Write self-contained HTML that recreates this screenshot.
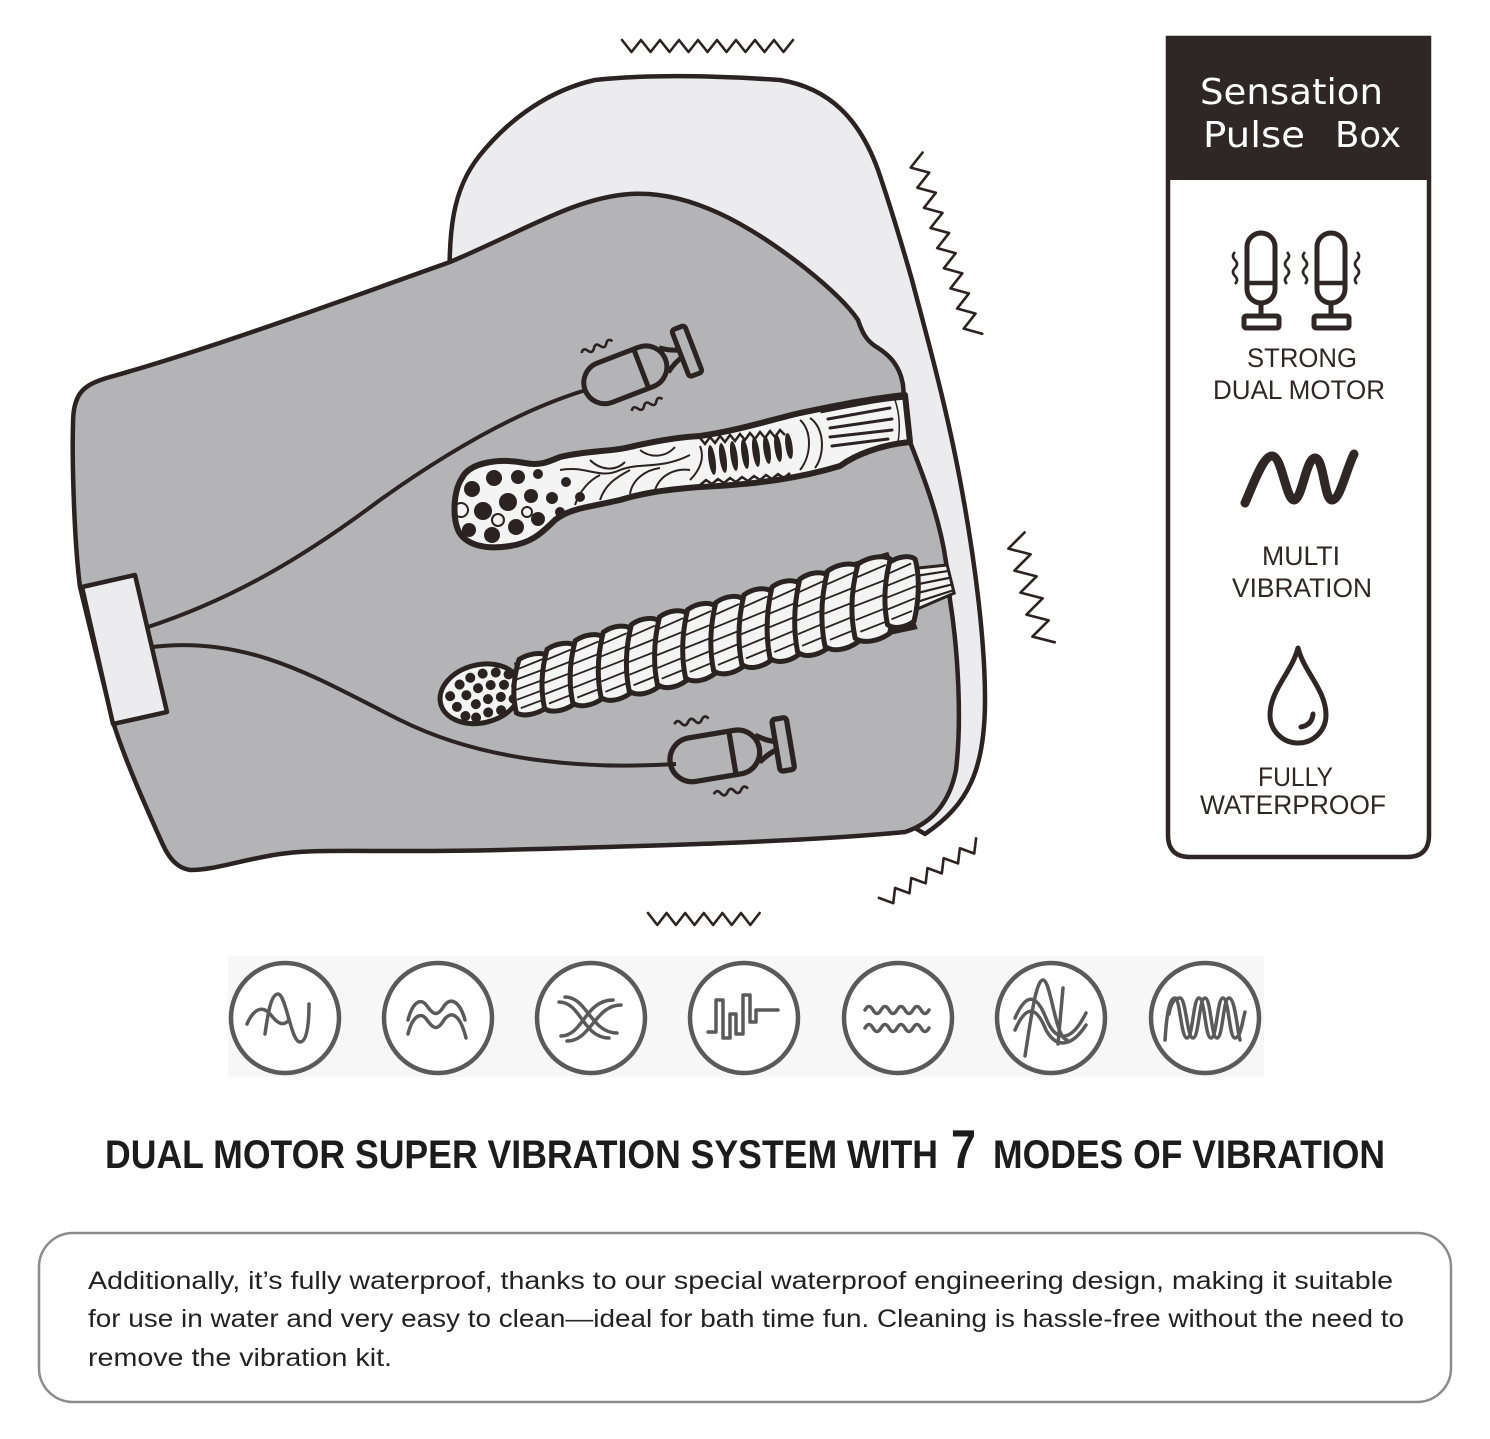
<!DOCTYPE html>
<html><head><meta charset="utf-8"><style>
html,body{margin:0;padding:0;background:#fff;}
svg{display:block;}
</style></head><body>
<svg width="1490" height="1439" viewBox="0 0 1490 1439" xmlns="http://www.w3.org/2000/svg">
<defs>
<g id="rib">
<path d="M-13,-30 C-2,-34 12,-32 18,-27 C23,-10 21,12 14,30 C3,34 -11,33 -18,27 C-22,8 -20,-12 -13,-30 Z" fill="#f4f4f4" stroke="#2a2321" stroke-width="5" vector-effect="non-scaling-stroke"/>
<path d="M-14,-20 L13,-24 M-17,-9 L17,-13 M-18,2 L18,-2 M-17,13 L16,9 M-13,23 L12,20" fill="none" stroke="#2a2321" stroke-width="1.8" vector-effect="non-scaling-stroke"/>
</g>
<g id="motor">
<rect x="-48" y="-21" width="86" height="42" rx="21" fill="none" stroke="#2a2321" stroke-width="5"/>
<line x1="12" y1="-20" x2="12" y2="20" stroke="#2a2321" stroke-width="5"/>
<path d="M36,-13 Q46,-6 54,-4 L54,4 Q46,6 36,13" fill="none" stroke="#2a2321" stroke-width="5" stroke-linejoin="round"/>
<rect x="54" y="-25" width="14" height="50" rx="3" fill="#b4b4b6" stroke="#2a2321" stroke-width="5"/>
<path d="M-38,-36 q3.3,-5 6.6,0 t6.6,0 t6.6,0 t6.6,0 t6.6,0" fill="none" stroke="#2a2321" stroke-width="2.6"/>
<path d="M-12,36 q3.3,-5 6.6,0 t6.6,0 t6.6,0 t6.6,0 t6.6,0" fill="none" stroke="#2a2321" stroke-width="2.6"/>
</g>
<g id="pmotor">
<path d="M-14,283 L-14,247 A14,14 0 0 1 14,247 L14,289 A14,14 0 0 1 -14,289 Z" fill="none" stroke="#2e2725" stroke-width="5"/>
<line x1="-14" y1="283" x2="14" y2="283" stroke="#2e2725" stroke-width="4.5"/>
<line x1="0" y1="303" x2="0" y2="316" stroke="#2e2725" stroke-width="5"/>
<rect x="-17" y="316" width="35" height="12" rx="2" fill="none" stroke="#2e2725" stroke-width="5"/>
<path d="M-26,252 q-4,4 0,8 t0,8 t0,8 t0,8" fill="none" stroke="#2e2725" stroke-width="2.6"/>
<path d="M26,252 q4,4 0,8 t0,8 t0,8 t0,8" fill="none" stroke="#2e2725" stroke-width="2.6"/>
</g>
</defs>

<!-- zigzags -->
<g fill="none" stroke="#2a2321" stroke-width="2.6" stroke-linejoin="round" stroke-linecap="round">
<path d="M622,40 l9.5,12 l9.5,-12 l9.5,12 l9.5,-12 l9.5,12 l9.5,-12 l9.5,12 l9.5,-12 l9.5,12 l9.5,-12 l9.5,12 l9.5,-12 l9.5,12 l9.5,-12 l9.5,12 l9.5,-12 l9.5,12 l9.5,-12"/>
<path transform="translate(915,155) rotate(71.8)" d="M0,-8 l10.6,16 l10.6,-16 l10.6,16 l10.6,-16 l10.6,16 l10.6,-16 l10.6,16 l10.6,-16 l10.6,16 l10.6,-16 l10.6,16 l10.6,-16 l10.6,16 l10.6,-16 l10.6,16 l10.6,-16 l10.6,16 l10.6,-16"/>
<path transform="translate(1015,535) rotate(74.7)" d="M0,-10 l11.4,20 l11.4,-20 l11.4,20 l11.4,-20 l11.4,20 l11.4,-20 l11.4,20 l11.4,-20 l11.4,20 l11.4,-20"/>
<path transform="translate(882,903) rotate(-31.5)" d="M0,-6 l9.5,12 l9.5,-12 l9.5,12 l9.5,-12 l9.5,12 l9.5,-12 l9.5,12 l9.5,-12 l9.5,12 l9.5,-12 l9.5,12 l9.5,-12"/>
<path d="M648,913 l9.3,12 l9.3,-12 l9.3,12 l9.3,-12 l9.3,12 l9.3,-12 l9.3,12 l9.3,-12 l9.3,12 l9.3,-12 l9.3,12 l9.3,-12"/>
</g>

<!-- back light shape -->
<path d="M450,300 C448,230 452,190 480,155 C510,118 550,90 595,80 C650,74 720,76 780,80 C830,88 860,120 878,170 C890,205 902,245 912,280 C925,330 945,400 960,480 C975,560 985,640 985,700 C985,770 968,805 925,834 L700,700 Z" fill="#ececee" stroke="#2a2321" stroke-width="4.5" stroke-linejoin="round"/>

<!-- gray body -->
<path d="M76,402 C80,388 92,382 110,377 C200,352 330,305 450,262 C530,228 575,198 630,194 C690,190 750,225 805,268 C830,288 848,305 858,320 C862,332 866,340 875,346 C890,355 900,366 903,385 L905,410 L910,442 C925,480 940,520 946,562 L950,600 C958,650 962,720 956,770 C950,800 935,822 905,832 C800,842 650,846 500,850 C380,853 320,848 280,854 C240,860 215,870 190,870 C178,868 170,860 163,845 C145,805 125,760 113,722 L80,587 C74,540 72,460 73,425 C73,414 74,407 76,402 Z" fill="#b4b4b6" stroke="#2a2321" stroke-width="4.5" stroke-linejoin="round"/>

<!-- cords -->
<path d="M148,627 C230,600 300,560 380,500 C450,450 520,410 586,390" fill="none" stroke="#2a2321" stroke-width="4"/>
<path d="M152,647 C250,635 320,680 400,720 C480,760 580,770 676,764" fill="none" stroke="#2a2321" stroke-width="4"/>

<!-- tab -->
<polygon points="82,587 135,575 167,712 113,724" fill="#ececee" stroke="#2a2321" stroke-width="4.5" stroke-linejoin="round"/>

<!-- upper sleeve -->
<path d="M462,478 C470,462 500,458 525,463 C540,466 548,462 560,457 C590,450 610,452 630,447 C660,440 680,437 700,436 C740,430 770,420 800,413 C830,407 860,400 905,395 L910,442 C880,445 855,455 840,466 C800,478 760,484 700,487 C660,490 640,494 620,500 C590,507 570,508 555,520 C540,535 530,543 510,546 C485,550 465,545 458,530 C452,515 454,490 462,478 Z" fill="#f4f4f4" stroke="#2a2321" stroke-width="6" stroke-linejoin="round"/>
<g fill="#2a2321">
<circle cx="472" cy="489" r="8"/><circle cx="494" cy="478" r="8"/><circle cx="518" cy="477" r="7"/>
<circle cx="483" cy="511" r="9"/><circle cx="508" cy="502" r="9"/><circle cx="531" cy="496" r="7"/>
<circle cx="469" cy="530" r="7"/><circle cx="492" cy="535" r="8"/><circle cx="516" cy="527" r="8"/>
<circle cx="538" cy="519" r="7"/><circle cx="552" cy="498" r="6"/><circle cx="566" cy="482" r="5"/>
<circle cx="538" cy="474" r="5"/><circle cx="580" cy="497" r="5"/><circle cx="560" cy="512" r="5"/>
</g>
<g fill="none" stroke="#2a2321" stroke-width="2">
<circle cx="461" cy="510" r="7"/><circle cx="498" cy="520" r="6"/><circle cx="527" cy="512" r="5"/>
<path d="M560,470 C585,465 600,480 620,470 C640,462 660,470 690,455"/>
<path d="M575,505 C580,490 590,480 600,475"/>
<path d="M600,500 C605,485 615,478 630,470 M630,494 C632,480 645,470 660,468 M655,490 C660,475 675,468 690,470"/>
<path d="M590,460 C600,470 615,472 625,462 M640,450 C650,458 665,458 675,447"/>
<path d="M690,480 C700,470 705,458 700,446"/>
<path d="M800,420 C812,430 812,455 800,470 M810,418 C825,428 825,455 815,468"/>
</g>
<g fill="#2a2321">
<ellipse cx="712" cy="460" rx="3.5" ry="15" transform="rotate(-8 712 460)"/>
<ellipse cx="723" cy="458" rx="3.5" ry="15" transform="rotate(-8 723 458)"/>
<ellipse cx="734" cy="456" rx="3.5" ry="15" transform="rotate(-8 734 456)"/>
<ellipse cx="745" cy="454" rx="3.5" ry="15" transform="rotate(-8 745 454)"/>
<ellipse cx="756" cy="452" rx="3.5" ry="15" transform="rotate(-8 756 452)"/>
<ellipse cx="767" cy="450" rx="3.5" ry="14" transform="rotate(-8 767 450)"/>
<ellipse cx="778" cy="448" rx="3.5" ry="14" transform="rotate(-8 778 448)"/>
<ellipse cx="789" cy="446" rx="3.5" ry="13" transform="rotate(-8 789 446)"/>
</g>
<path d="M700,438 l5,6 l5,-7 l5,6 l5,-7 l5,6 l5,-7 l5,6 l5,-7 l5,6 l5,-7 l5,6 l5,-7 l5,6 l5,-7 l5,6 l5,-7 l5,5" fill="none" stroke="#2a2321" stroke-width="2.5"/>
<path d="M700,485 l6,-5 l6,4 l6,-5 l6,4 l6,-5 l6,4 l6,-5 l6,4 l6,-5 l6,4 l6,-5 l6,4 l6,-5 l6,4 l6,-5" fill="none" stroke="#2a2321" stroke-width="2.5"/>
<g stroke="#2a2321" stroke-width="3" stroke-linecap="round">
<line x1="828" y1="419" x2="890" y2="408"/>
<line x1="830" y1="428" x2="892" y2="419"/>
<line x1="830" y1="437" x2="892" y2="430"/>
<line x1="832" y1="446" x2="888" y2="439"/>
</g>
<path d="M895,400 C900,415 900,430 898,442" fill="none" stroke="#2a2321" stroke-width="1.5"/>
<path d="M820,410 C850,404 880,398 906,396" fill="none" stroke="#2a2321" stroke-width="7"/>

<!-- lower sleeve -->
<g transform="translate(520,687) rotate(-14)">
<ellipse cx="-40" cy="-3" rx="41" ry="29" fill="#f4f4f4" stroke="#2a2321" stroke-width="5"/>
<g fill="#2a2321">
<circle cx="-70" cy="-8" r="5"/><circle cx="-58" cy="-17" r="5"/><circle cx="-46" cy="-21" r="5"/><circle cx="-33" cy="-22" r="5"/><circle cx="-20" cy="-20" r="5"/><circle cx="-8" cy="-15" r="5"/>
<circle cx="-66" cy="4" r="5"/><circle cx="-54" cy="-5" r="5"/><circle cx="-41" cy="-9" r="5"/><circle cx="-28" cy="-9" r="5"/><circle cx="-15" cy="-6" r="5"/><circle cx="-4" cy="-2" r="4.5"/>
<circle cx="-60" cy="15" r="5"/><circle cx="-47" cy="6" r="5"/><circle cx="-34" cy="4" r="5"/><circle cx="-21" cy="5" r="5"/><circle cx="-9" cy="10" r="5"/>
<circle cx="-50" cy="19" r="5"/><circle cx="-37" cy="17" r="5"/><circle cx="-24" cy="18" r="5"/>
</g>
<path d="M0,-25 L390,-42 L400,40 L0,26 Z" fill="#2a2321"/>
<polygon points="395,-22 444,-15 444,14 395,22" fill="#f4f4f4" stroke="#2a2321" stroke-width="3"/>
<g stroke="#2a2321" stroke-width="2.2">
<line x1="400" y1="-13" x2="443" y2="-9"/><line x1="400" y1="-4" x2="443" y2="-2"/><line x1="400" y1="5" x2="443" y2="5"/><line x1="400" y1="14" x2="443" y2="11"/>
</g>
<use href="#rib" transform="translate(12,0) skewX(-12) scale(0.92,0.9)"/>
<use href="#rib" transform="translate(41,0) skewX(-12) scale(0.92,1.0)"/>
<use href="#rib" transform="translate(70,0) skewX(-12) scale(0.92,1.05)"/>
<use href="#rib" transform="translate(99,0) skewX(-12) scale(0.92,1.1)"/>
<use href="#rib" transform="translate(128,0) skewX(-12) scale(0.92,1.12)"/>
<use href="#rib" transform="translate(157,0) skewX(-12) scale(0.92,1.14)"/>
<use href="#rib" transform="translate(186,0) skewX(-12) scale(0.92,1.15)"/>
<use href="#rib" transform="translate(215,0) skewX(-12) scale(0.92,1.15)"/>
<use href="#rib" transform="translate(244,0) skewX(-12) scale(0.92,1.17)"/>
<use href="#rib" transform="translate(273,0) skewX(-12) scale(0.92,1.2)"/>
<use href="#rib" transform="translate(302,0) skewX(-12) scale(0.95,1.23)"/>
<use href="#rib" transform="translate(332,0) skewX(-12) scale(1.05,1.27)"/>
<use href="#rib" transform="translate(364,0) skewX(-12) scale(1.1,1.25)"/>
<use href="#rib" transform="translate(393,0) skewX(-12) scale(0.85,1.05)"/>
</g>

<!-- motors -->
<use href="#motor" transform="translate(630,373) rotate(-21)"/>
<use href="#motor" transform="translate(720,755) rotate(-9.5) scale(1.05)"/>

<!-- right panel -->
<path d="M1168,38 L1429,38 L1429,835 Q1429,857 1407,857 L1190,857 Q1168,857 1168,835 Z" fill="#fff" stroke="#2e2725" stroke-width="4.5"/>
<rect x="1166" y="36" width="265" height="144" fill="#2e2725"/>
<g font-family="'DejaVu Sans', sans-serif" font-size="36" fill="#fff">
<text x="1200" y="104" textLength="183" lengthAdjust="spacingAndGlyphs">Sensation</text>
<text x="1203" y="147" textLength="102" lengthAdjust="spacingAndGlyphs">Pulse</text>
<text x="1335" y="147" textLength="66" lengthAdjust="spacingAndGlyphs">Box</text>
</g>
<use href="#pmotor" transform="translate(1261,0)"/>
<use href="#pmotor" transform="translate(1331,0)"/>
<path d="M1245,503 C1253,485 1263,456 1272,456 C1282,456 1286,500 1294,500 C1302,500 1306,458 1315,458 C1324,458 1324,500 1332,500 C1340,500 1346,470 1354,454" fill="none" stroke="#2e2725" stroke-width="9" stroke-linecap="round" stroke-linejoin="round"/>
<path d="M1298,648 C1292,672 1270,690 1270,715 A28,28 0 0 0 1326,715 C1326,690 1304,672 1298,648 Z" fill="none" stroke="#2e2725" stroke-width="5" stroke-linejoin="round"/>
<path d="M1301,727 Q1312,725 1313,714" fill="none" stroke="#2e2725" stroke-width="5" stroke-linecap="round"/>
<g font-family="'Liberation Sans', sans-serif" font-size="27" fill="#2e2725">
<text x="1247" y="367" textLength="110" lengthAdjust="spacingAndGlyphs">STRONG</text>
<text x="1213" y="399" textLength="172" lengthAdjust="spacingAndGlyphs">DUAL MOTOR</text>
<text x="1262" y="565" textLength="78" lengthAdjust="spacingAndGlyphs">MULTI</text>
<text x="1232" y="597" textLength="140" lengthAdjust="spacingAndGlyphs">VIBRATION</text>
<text x="1258" y="786" textLength="75" lengthAdjust="spacingAndGlyphs">FULLY</text>
<text x="1200" y="814" textLength="186" lengthAdjust="spacingAndGlyphs">WATERPROOF</text>
</g>

<!-- mode icons -->
<rect x="228" y="956" width="1036" height="121" fill="#f7f7f7"/>
<g fill="#fff" stroke="#5a5a5a" stroke-width="4.5">
<ellipse cx="285" cy="1018" rx="54" ry="55"/>
<ellipse cx="438" cy="1018" rx="54" ry="55"/>
<ellipse cx="591" cy="1018" rx="54" ry="55"/>
<ellipse cx="744" cy="1018" rx="54" ry="55"/>
<ellipse cx="898" cy="1018" rx="54" ry="55"/>
<ellipse cx="1051" cy="1018" rx="54" ry="55"/>
<ellipse cx="1205" cy="1018" rx="54" ry="55"/>
</g>
<g fill="none" stroke="#5a5a5a" stroke-width="3.5" stroke-linecap="round" stroke-linejoin="round">
<g transform="translate(285,1018)">
<path d="M-38,6 C-31,-10 -22,-13 -14,-3 C-8,5 -2,9 4,2"/>
<path d="M-20,16 C-17,-5 -14,-24 -7,-24 C1,-24 6,24 15,24 C22,24 24,6 24,-14"/>
</g>
<g transform="translate(438,1018)">
<path d="M-30,2 C-26,-14 -18,-22 -11,-12 C-4,-2 0,-2 6,-12 C13,-22 22,-16 27,2"/>
<path d="M-30,16 C-26,0 -18,-8 -11,2 C-4,12 0,12 6,2 C13,-8 22,-4 28,20"/>
</g>
<g transform="translate(591,1018)">
<path d="M-32,-16 C-10,-16 -8,20 18,20"/>
<path d="M-26,-21 C-4,-21 0,15 26,15" />
<path d="M-30,18 C-8,18 -6,-18 22,-18"/>
<path d="M-24,23 C0,23 4,-13 30,-13"/>
</g>
<g transform="translate(744,1018)">
<path d="M-36,14 L-28,14 L-28,-18 L-21,-18 L-21,20 L-14,20 L-14,-4 L-8,-4 L-8,16 L-1,16 L-1,-23 L6,-23 L6,4 L12,4 L12,-8 L34,-8"/>
</g>
<g transform="translate(898,1018)">
<path d="M-33,-8 q4,-7 8,0 t8,0 t8,0 t8,0 t8,0 t8,0 t8,0 t8,0"/>
<path d="M-33,10 q4,-7 8,0 t8,0 t8,0 t8,0 t8,0 t8,0 t8,0 t8,0"/>
</g>
<g transform="translate(1051,1018)">
<path d="M-36,0 C-25,-25 -15,-25 -5,0 C5,25 20,25 35,-5"/>
<path d="M-36,12 C-25,-13 -15,-13 -5,12 C5,30 20,30 35,7"/>
<path d="M-26,38 C-20,0 -15,-38 -8,-38 C0,-38 4,20 16,22"/>
<path d="M12,-30 L7,26"/>
</g>
<g transform="translate(1205,1018)">
<path d="M-40,22 C-38,-8 -35,-20 -30,-20 C-25,-20 -24,20 -18,20 C-12,20 -12,-20 -6,-20 C0,-20 0,20 6,20 C12,20 12,-20 18,-20 C24,-20 24,20 30,20 C36,20 38,0 40,-6"/>
<path d="M-36,-4 C-34,-16 -30,-20 -25,-20 C-19,-20 -18,20 -12,20 C-6,20 -6,-20 0,-20 C6,-20 6,20 12,20 C18,20 18,-20 24,-20 C30,-20 32,10 35,22"/>
</g>
</g>

<!-- title -->
<g font-family="'Liberation Sans', sans-serif" font-weight="bold" fill="#1c1c1c">
<text x="105" y="1168" font-size="40" textLength="833" lengthAdjust="spacingAndGlyphs">DUAL MOTOR SUPER VIBRATION SYSTEM WITH</text>
<text x="951" y="1168" font-size="55" textLength="25" lengthAdjust="spacingAndGlyphs">7</text>
<text x="993" y="1168" font-size="40" textLength="392" lengthAdjust="spacingAndGlyphs">MODES OF VIBRATION</text>
</g>

<!-- description box -->
<rect x="39" y="1233" width="1412" height="169" rx="34" fill="#fff" stroke="#8c8c8c" stroke-width="2.5"/>
<g font-family="'Liberation Sans', sans-serif" font-size="25" fill="#222">
<text x="88" y="1289" textLength="1305" lengthAdjust="spacingAndGlyphs">Additionally, it’s fully waterproof, thanks to our special waterproof engineering design, making it suitable</text>
<text x="88" y="1327" textLength="1316" lengthAdjust="spacingAndGlyphs">for use in water and very easy to clean—ideal for bath time fun. Cleaning is hassle-free without the need to</text>
<text x="88" y="1366" textLength="304" lengthAdjust="spacingAndGlyphs">remove the vibration kit.</text>
</g>
</svg>
</body></html>
